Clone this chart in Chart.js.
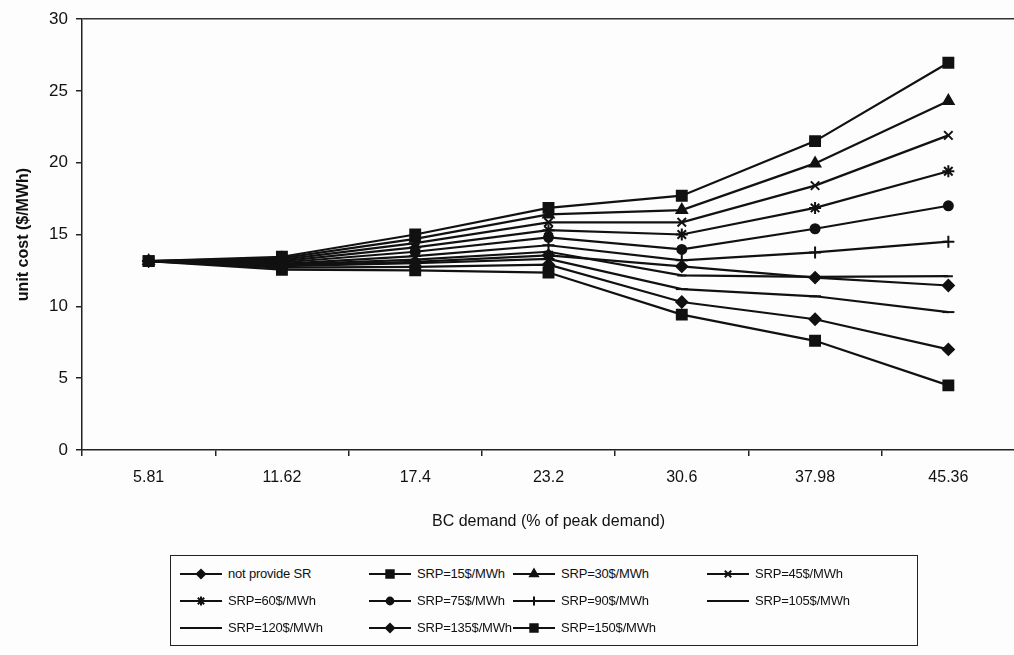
<!DOCTYPE html>
<html>
<head>
<meta charset="utf-8">
<script src="https://cdn.jsdelivr.net/npm/chart.js@4/dist/chart.umd.min.js"></script>
<style>
    body { margin: 0; background: #fdfdfd; font-family: "Liberation Sans", Arial, sans-serif; overflow: hidden; }
    #wrap { position: absolute; left: 0; top: 0; width: 1024px; height: 535px; }
    #legend {
        position: absolute; left: 170px; top: 555px; width: 748px; height: 91px;
        border: 1.5px solid #222; box-sizing: border-box; padding: 4px 0 0 8px;
        display: grid; grid-template-columns: 189px 144px 194px 210px; grid-auto-rows: 27px;
    }
    .item { display: flex; align-items: center; font-size: 13px; color: #111; white-space: nowrap; letter-spacing: -0.2px; }
    .item canvas { margin-right: 5px; }
</style>
</head>
<body>
<div id="wrap"><canvas id="chart"></canvas></div>
<div id="legend"></div>
<script>
const categories = ['5.81', '11.62', '17.4', '23.2', '30.6', '37.98', '45.36'];

const notProvideSR = [13.15, 12.85, 13.1, 13.55, 12.78, 12.0, 11.45];
const srp15  = [13.15, 13.45, 15.0, 16.85, 17.7, 21.5, 26.95];
const srp30  = [13.15, 13.35, 14.7, 16.4, 16.7, 19.95, 24.3];
const srp45  = [13.15, 13.25, 14.4, 15.85, 15.85, 18.4, 21.9];
const srp60  = [13.15, 13.15, 14.1, 15.3, 15.0, 16.85, 19.4];
const srp75  = [13.15, 13.05, 13.8, 14.8, 13.96, 15.4, 17.0];
const srp90  = [13.15, 12.95, 13.5, 14.25, 13.2, 13.75, 14.5];
const srp105 = [13.15, 12.9, 13.25, 13.8, 12.15, 12.05, 12.1];
const srp120 = [13.15, 12.8, 13.0, 13.3, 11.2, 10.7, 9.6];
const srp135 = [13.15, 12.7, 12.75, 12.9, 10.3, 9.1, 7.0];
const srp150 = [13.15, 12.55, 12.5, 12.35, 9.42, 7.6, 4.5];

const seriesDefs = [
    { label: 'not provide SR', data: notProvideSR, style: 'rectRot', r: 5.5 },
    { label: 'SRP=15$/MWh', data: srp15, style: 'rect', r: 7 },
    { label: 'SRP=30$/MWh', data: srp30, style: 'triangle', r: 6 },
    { label: 'SRP=45$/MWh', data: srp45, style: 'crossRot', r: 6 },
    { label: 'SRP=60$/MWh', data: srp60, style: 'star', r: 6 },
    { label: 'SRP=75$/MWh', data: srp75, style: 'circle', r: 4.5 },
    { label: 'SRP=90$/MWh', data: srp90, style: 'cross', r: 6 },
    { label: 'SRP=105$/MWh', data: srp105, style: 'line', r: 4.5 },
    { label: 'SRP=120$/MWh', data: srp120, style: 'line', r: 6 },
    { label: 'SRP=135$/MWh', data: srp135, style: 'rectRot', r: 5.5 },
    { label: 'SRP=150$/MWh', data: srp150, style: 'rect', r: 7 }
];

const ink = '#111';

const datasets = seriesDefs.map(s => ({
    label: s.label,
    data: s.data,
    borderColor: ink,
    backgroundColor: ink,
    borderWidth: 2.2,
    pointStyle: s.style,
    pointRadius: s.r,
    pointBorderWidth: 2,
    pointBorderColor: ink,
    pointBackgroundColor: ink,
    tension: 0,
    fill: false
}));

new Chart(document.getElementById('chart'), {
    type: 'line',
    data: { labels: categories, datasets: datasets },
    options: {
        responsive: true,
        maintainAspectRatio: false,
        animation: false,
        layout: { padding: { top: 19, right: 0, left: 10, bottom: 0 } },
        plugins: {
            legend: { display: false },
            tooltip: { enabled: false }
        },
        scales: {
            x: {
                offset: true,
                border: { display: true, color: '#222', width: 1.5 },
                grid: { offset: true, drawOnChartArea: false, tickLength: 6, tickColor: '#222', lineWidth: 1.5 },
                ticks: { color: ink, font: { size: 16, family: 'Liberation Sans' }, padding: 12, maxRotation: 0 },
                title: { display: true, text: 'BC demand (% of peak demand)', color: ink,
                         font: { size: 16, family: 'Liberation Sans' }, padding: { top: 10 } },
                afterFit: s => { s.height = 85; }
            },
            y: {
                min: 0, max: 30,
                border: { display: true, color: '#222', width: 1.5 },
                grid: {
                    color: c => (c.tick && c.tick.value === 30) ? '#333' : 'rgba(0,0,0,0)',
                    tickColor: '#222', tickLength: 6, lineWidth: 1.5
                },
                ticks: { stepSize: 5, color: ink, font: { size: 17, family: 'Liberation Sans' }, padding: 8 },
                title: { display: true, text: 'unit cost ($/MWh)', color: ink,
                         font: { size: 16, weight: 'bold', family: 'Liberation Sans' }, padding: { bottom: 4 } },
                afterFit: s => { s.width = 72; }
            }
        }
    }
});

// legend with the same marker shapes
const legendEl = document.getElementById('legend');
seriesDefs.forEach(s => {
    const item = document.createElement('div');
    item.className = 'item';
    const c = document.createElement('canvas');
    c.width = 44; c.height = 16;
    const ctx = c.getContext('2d');
    ctx.strokeStyle = ink;
    ctx.lineWidth = 2;
    ctx.beginPath();
    ctx.moveTo(1, 8); ctx.lineTo(43, 8);
    ctx.stroke();
    ctx.fillStyle = ink;
    Chart.helpers.drawPoint(ctx, { pointStyle: s.style, radius: s.r * 0.75, rotation: 0, borderWidth: 2 }, 22, 8);
    item.appendChild(c);
    const span = document.createElement('span');
    span.textContent = s.label;
    item.appendChild(span);
    legendEl.appendChild(item);
});
</script>
</body>
</html>
